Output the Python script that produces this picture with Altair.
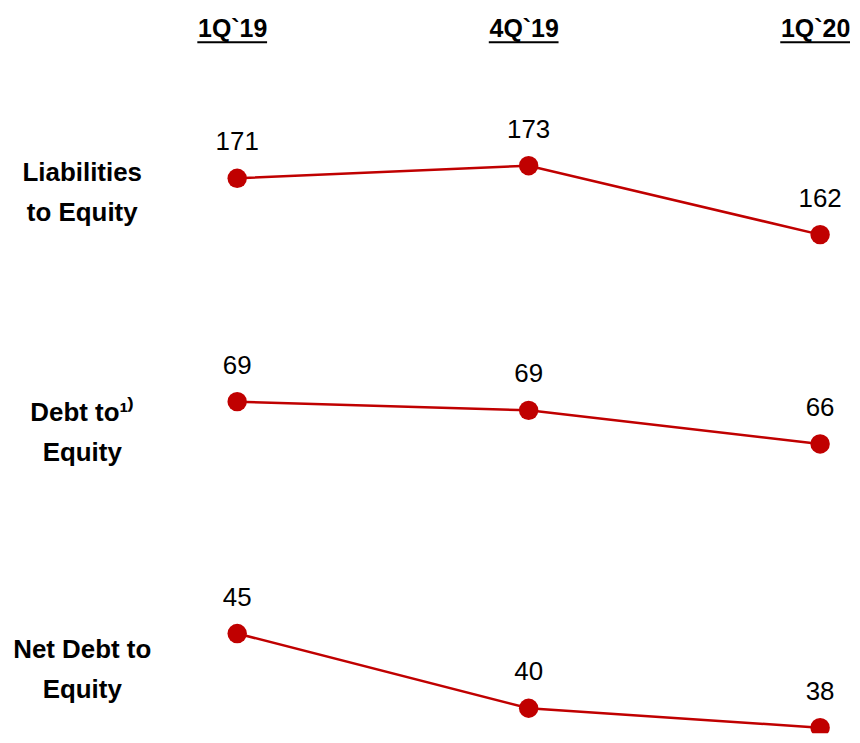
import altair as alt
import pandas as pd

quarters = ["1Q`19", "4Q`19", "1Q`20"]
liabilities_to_equity = [171, 173, 162]
debt_to_equity = [69.4, 68.7, 66.0]
net_debt_to_equity = [44.6, 39.6, 38.3]
row_titles = [["Liabilities", "to Equity"], ["Debt to¹⁾", "Equity"], ["Net Debt to", "Equity"]]

RED = "#C00000"
FONT = "Liberation Sans, Arial, sans-serif"


def row(values, title, domain, height, title_y, header=False, clip=False):
    df = pd.DataFrame({"quarter": quarters, "value": values})
    if header:
        xaxis = alt.Axis(orient="top", title=None, labelAngle=0, ticks=False, tickSize=0,
                         domain=False, grid=False, labelFontSize=25, labelFontWeight="bold",
                         labelFont=FONT, labelColor="black", labelPadding=81, labelOffset=-5)
    else:
        xaxis = None
    x = alt.X("quarter:N", sort=quarters,
              scale=alt.Scale(type="point", padding=0.05128), axis=xaxis)
    y = alt.Y("value:Q", scale=alt.Scale(domain=domain, nice=False, zero=False),
              axis=alt.Axis(title=title, labels=False, ticks=False, domain=False, grid=False,
                            titleAngle=0, titleAlign="center", titleBaseline="middle",
                            titleX=-141, titleY=title_y, titleFontSize=26,
                            titleFontWeight="bold", titleFont=FONT, titleColor="black",
                            titleLineHeight=40))
    base = alt.Chart(df).encode(x=x, y=y)
    line = base.mark_line(color=RED, strokeWidth=2.5)
    pts = base.mark_circle(color=RED, size=380, opacity=1, clip=clip)
    txt = base.mark_text(dy=-36, fontSize=26, font=FONT, color="black").encode(
        text=alt.Text("value:Q", format=".0f"))
    layers = [line, pts, txt]
    if header:
        ul = alt.Chart(df).mark_rule(color="black", strokeWidth=2, xOffset=-40, x2Offset=30).encode(
            x=alt.X("quarter:N", sort=quarters), x2=alt.X2("quarter"), y=alt.value(-80))
        layers.append(ul)
    return alt.layer(*layers).properties(width=615, height=height)


r1 = row(liabilities_to_equity, row_titles[0], [159, 180], 132, 51, header=True)
r2 = row(debt_to_equity, row_titles[1], [63.9, 72.1], 102.5, 45)
r3 = row(net_debt_to_equity, row_titles[2], [37.93, 47.83], 148.5, 64.5, clip=True)

chart = alt.vconcat(r1, r2, r3, spacing=115, bounds="flush").configure_view(
    stroke=None).properties(padding={"left": 4, "top": 7, "right": 0, "bottom": 0})

chart.save("out.html", embed_options={"renderer": "svg", "actions": False})
